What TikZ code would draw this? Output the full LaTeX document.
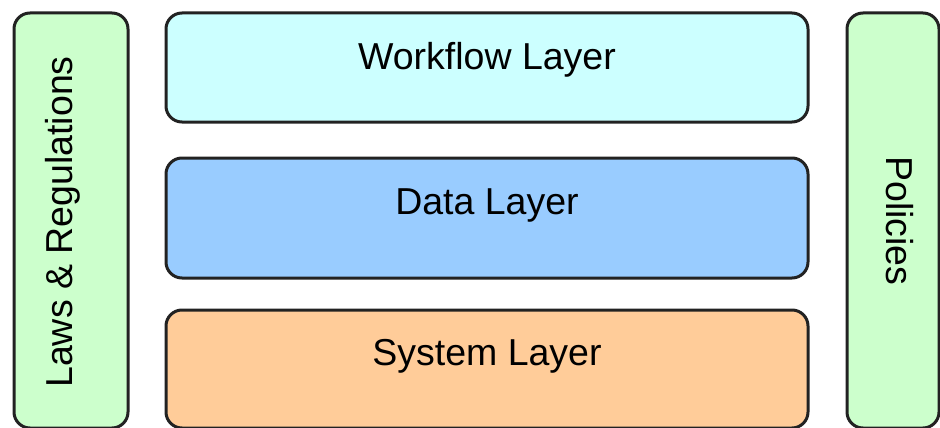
\documentclass[tikz,border=0pt]{standalone}
\usepackage{fontspec}
\setmainfont{Liberation Sans}
\definecolor{wfcol}{HTML}{CCFFFF}
\definecolor{datacol}{HTML}{99CCFF}
\definecolor{syscol}{HTML}{FFCC99}
\definecolor{sidecol}{HTML}{CCFFCC}
\definecolor{edgecol}{HTML}{222222}
\tikzset{
  layerbox/.style={draw=edgecol, line width=3pt, rounded corners=16pt},
  lbl/.style={font=\fontsize{37.5}{40}\selectfont, text=black, inner sep=0pt}
}
\begin{document}
\begin{tikzpicture}[x=1pt,y=-1pt]
  \useasboundingbox (0,0) rectangle (940,428);
  % side panels
  \path[layerbox, fill=sidecol] (14,13) rectangle (128,428);
  \node[lbl, rotate=90] (laws) at (63,222) {Laws \& Regulations};
  \path[layerbox, fill=sidecol] (847,13) rectangle (939,428);
  \node[lbl, rotate=-90] (policies) at (900,221) {Policies};
  % stacked layers
  \path[layerbox, fill=wfcol] (166,13) rectangle (808,122);
  \node[lbl] (workflow) at (487,60) {Workflow Layer};
  \path[layerbox, fill=datacol] (166,158) rectangle (808,278);
  \node[lbl] (data) at (487,205) {Data Layer};
  \path[layerbox, fill=syscol] (166,310) rectangle (808,428);
  \node[lbl] (system) at (487,356) {System Layer};
\end{tikzpicture}
\end{document}
